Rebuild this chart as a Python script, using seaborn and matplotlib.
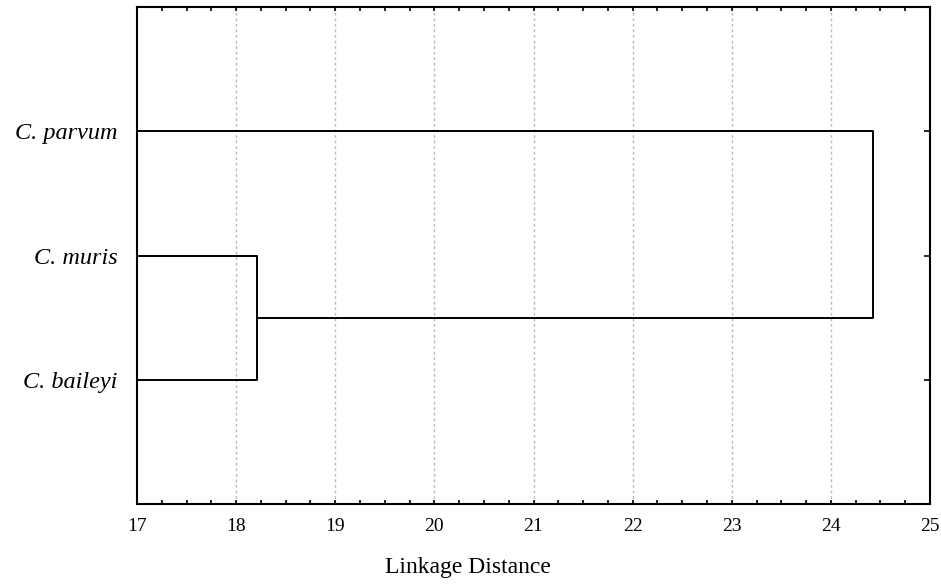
import matplotlib
matplotlib.use("Agg")
import matplotlib.pyplot as plt
from matplotlib.ticker import MultipleLocator
import pandas as pd
import seaborn as sns

# Leaves (top to bottom) and merge heights of the clustering
leaves = ["C. parvum", "C. muris", "C. baileyi"]
merge_muris_baileyi = 18.21
merge_all = 24.43
x_min, x_max = 17, 25
x_ticks = [17, 18, 19, 20, 21, 22, 23, 24, 25]

sns.set_theme(style="white")
plt.rcParams["font.family"] = ["Liberation Serif", "DejaVu Serif"]

# Leaf positions on the y axis
pos = {name: i + 1 for i, name in enumerate(leaves)}
y_mid = (pos["C. muris"] + pos["C. baileyi"]) / 2

# Segments of the dendrogram in elbow form
segments = [
    # muris + baileyi
    [(x_min, pos["C. muris"]), (merge_muris_baileyi, pos["C. muris"]),
     (merge_muris_baileyi, pos["C. baileyi"]), (x_min, pos["C. baileyi"])],
    # (muris, baileyi) + parvum
    [(merge_muris_baileyi, y_mid), (merge_all, y_mid),
     (merge_all, pos["C. parvum"]), (x_min, pos["C. parvum"])],
]
rows = []
for k, seg in enumerate(segments):
    for order, (x, y) in enumerate(seg):
        rows.append({"seg": k, "order": order, "x": x, "y": y})
df = pd.DataFrame(rows)

fig = plt.figure(figsize=(9.41, 5.85), dpi=100)
ax = fig.add_axes([137 / 941, 1 - 504 / 585, (930 - 137) / 941, (504 - 7) / 585])

ax.grid(False)
for xv in x_ticks[1:-1]:
    ax.axvline(xv, color="#bbbbbb", lw=1.0, ls=(0, (2, 2)), zorder=0)

sns.lineplot(data=df, x="x", y="y", units="seg", estimator=None, sort=False,
             color="black", lw=1.4, ax=ax, legend=False)

ax.set_xlim(x_min, x_max)
ax.set_ylim(len(leaves) + 1, 0)
ax.set_xticks(x_ticks)
ax.set_xticklabels([str(t) for t in x_ticks])
ax.xaxis.set_minor_locator(MultipleLocator(0.25))
ax.set_yticks(list(pos.values()))
ax.set_yticklabels(leaves, fontstyle="italic", fontsize=17.5)
ax.set_xlabel("")
ax.set_ylabel("")

for s in ax.spines.values():
    s.set_visible(True)
    s.set_color("black")
    s.set_linewidth(1.5)

ax.tick_params(axis="x", which="major", direction="in", length=3, width=1.2,
               top=True, bottom=True, labelsize=14, pad=10, colors="black")
ax.tick_params(axis="x", which="minor", direction="in", length=3, width=1.2,
               top=True, bottom=True, colors="black")
ax.tick_params(axis="y", which="major", direction="in", length=4, width=1.2,
               left=True, right=True, pad=14, colors="black")

fig.text(468 / 941, 1 - 567 / 585, "Linkage Distance", ha="center", va="center",
         fontsize=17, color="black")

fig.savefig("out.png", dpi=100, facecolor="white")
